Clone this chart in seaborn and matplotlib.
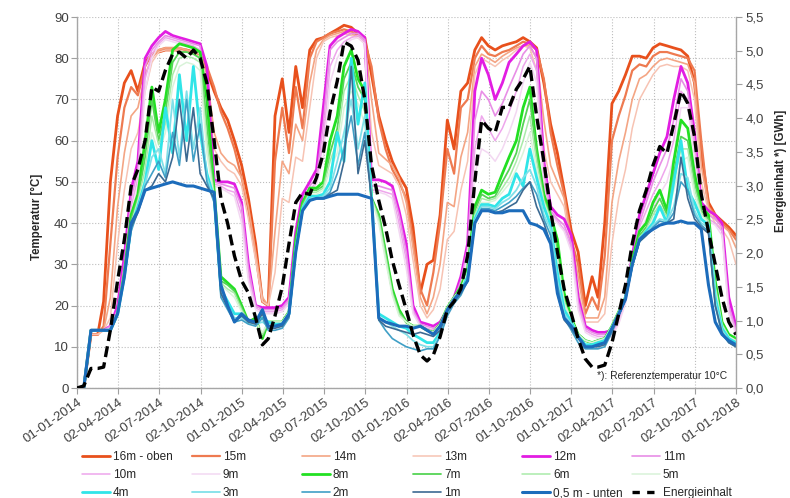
import numpy as np
import pandas as pd
import matplotlib
matplotlib.use("Agg")
import matplotlib.pyplot as plt
import matplotlib.dates as mdates
from matplotlib.lines import Line2D
from matplotlib.ticker import FuncFormatter
import seaborn as sns

sns.set_style("white")
plt.rcParams["font.family"] = ["Liberation Sans", "DejaVu Sans"]

# semi-monthly sampling dates (1st and 16th of each month)
dates = pd.date_range("2014-01-01", "2018-01-01", freq="SMS-16")

x_tick_labels = ["01-01-2014", "02-04-2014", "02-07-2014", "02-10-2014", "01-01-2015",
                 "02-04-2015", "03-07-2015", "02-10-2015", "01-01-2016", "02-04-2016",
                 "02-07-2016", "01-10-2016", "01-01-2017", "02-04-2017", "02-07-2017",
                 "02-10-2017", "01-01-2018"]

t16 = [0, 0, 13, 13, 21, 50, 66, 74, 77, 72, 79, 81, 81.5, 82, 82, 82, 82, 81.5, 81, 77, 72, 68, 65, 60,
       54, 46, 35, 21, 20, 66, 75, 62, 78, 68, 82, 84.5, 85, 86, 87, 88, 87.5, 86, 85, 76, 66, 60, 55, 51.5,
       48.5, 39, 23, 30, 31, 42, 65, 58, 72, 74, 82, 85, 83, 82, 83, 83.5, 84, 85, 84, 82.5, 74, 64, 57, 48,
       38, 33, 20, 27, 22, 40, 69, 72, 76, 80.5, 80.5, 80, 82.5, 83.5, 83, 82.5, 82, 80.5, 74, 57, 45, 42, 40.5, 39, 37]
t15 = [0, 0, 13, 13, 15, 35, 56, 68, 73, 71, 78, 81, 82, 82.5, 82.5, 82.5, 82, 81.5, 80.5, 78, 73, 67, 63, 58,
       51, 43, 32, 21, 20, 55, 68, 57, 73, 63, 80, 84, 85, 86, 86.5, 87, 86.5, 85.5, 84, 78, 65, 58, 53, 50,
       46, 36, 24, 20, 28, 40, 58, 52, 68, 70, 80, 83, 81, 80.5, 81.5, 82, 83, 84, 83.5, 82, 75, 62, 54, 47,
       36, 30, 18, 22, 19, 32, 60, 66, 71, 77, 78.5, 78, 80.5, 81.5, 81.5, 81, 80.5, 80, 77, 60, 44, 42, 40, 38.5, 36]
t14 = [0, 0, 13, 13, 14, 22, 44, 57, 66, 68, 76, 80, 82, 82.5, 82.5, 82.5, 82, 81.5, 81, 76, 62, 57, 55, 54,
       51, 44, 33, 22, 20, 38, 55, 52, 64, 60, 74, 82, 84.5, 85.5, 86, 86.5, 86, 85, 84, 70, 57, 55.5, 54, 51,
       45, 34, 22, 18, 22, 30, 45, 44, 56, 62, 78, 81, 80, 79, 80.5, 81.5, 82.5, 83, 83, 80, 65, 54, 50, 46,
       36, 27, 17, 17, 17, 22, 45, 55, 62, 70, 75, 76, 78, 79.5, 80, 79.5, 79, 78.5, 74, 54, 44, 41, 39.5, 38, 34]
t13 = [0, 0, 13, 13, 14, 17, 35, 48, 58, 62, 72, 79, 81.5, 82, 82, 82, 81.5, 81, 80.5, 73, 58, 55, 53, 52,
       49, 41, 31, 21, 20, 28, 46, 45, 56, 55, 68, 80, 84, 85, 85.5, 86, 85.5, 85, 83.5, 62, 54, 53, 52, 49,
       42, 31, 20, 17, 19, 24, 36, 38, 48, 55, 76, 80, 79, 78, 79.5, 80.5, 82, 83, 82.5, 77, 58, 50, 47, 44,
       34, 24, 16, 16, 16, 18, 35, 46, 53, 63, 70, 73, 76, 78, 78.5, 78, 78, 77, 70, 50, 43, 40, 38.5, 36, 30]
t12 = [0, 0, 14, 14, 14, 15, 20, 32, 48, 55, 80, 83, 85, 86.5, 85.5, 85, 84.5, 84, 83.5, 78, 50.5, 50, 50, 49.5,
       45, 30, 20, 19.5, 19.5, 19.5, 20, 22, 38, 47, 50, 53, 68, 83, 85, 86, 87, 86.5, 85, 50.5, 50.5, 50, 49, 43,
       35, 20, 16, 15.5, 15, 16, 19, 22, 27, 35, 72, 80, 76, 70, 74, 79, 81, 83, 84, 82, 55, 44, 42, 41,
       37, 22, 15, 14, 13.5, 13.5, 14, 17, 22, 32, 42, 47, 52, 57, 61, 70, 78, 74, 62, 45, 43, 42, 40, 22, 15]
t11 = [0, 0, 14, 14, 14, 15, 19, 30, 46, 53, 78, 82, 84, 85.5, 85, 84.5, 84, 83.5, 83, 70, 50, 49.5, 49, 48.5,
       44, 29, 20, 19, 19, 19, 19.5, 21.5, 36, 45, 49, 51, 64, 82, 84, 85, 86, 86, 84.5, 49, 49, 48.5, 48, 42,
       33, 19, 15.5, 15, 14.5, 15.5, 18.5, 21.5, 26, 34, 65, 72, 70, 66, 69, 73, 77, 81, 83, 80, 53, 43, 41, 39.5,
       35, 21, 14.5, 13.5, 13, 13, 13.5, 16.5, 21.5, 31, 40, 45, 50, 54, 58, 65, 75, 72, 60, 44, 42, 41, 39, 20, 14]
t10 = [0, 0, 14, 14, 14, 14.5, 18.5, 29, 44, 51, 75, 81, 83.5, 85, 84.5, 84, 83.5, 83, 82, 64, 49.5, 49, 48, 47.5,
       42, 27, 19.5, 18.5, 18.5, 18.5, 19, 21, 34, 44, 48, 50, 60, 78, 82, 84, 85, 85.5, 84, 48, 48, 47.5, 47, 40,
       31, 18.5, 15, 14.5, 14, 15, 18, 21, 25, 33, 58, 66, 63, 60, 63, 67, 72, 78, 81, 77, 50, 42.5, 40.5, 38.5,
       34, 20, 14, 13, 12.5, 12.5, 13, 16, 21, 30, 39, 43, 47, 50, 54, 60, 72, 70, 58, 43, 41, 40, 38, 19, 13.5]
t9 = [0, 0, 14, 14, 14, 14.5, 18, 28, 42, 49, 72, 80, 83, 84.5, 84, 83.5, 83, 82.5, 81, 58, 49, 48.5, 47.5, 46.5,
      40, 26, 19, 18, 18, 18, 18.5, 20.5, 33, 43, 47.5, 49.5, 56, 74, 80, 83, 84.5, 85, 83.5, 47.5, 47.5, 47, 46, 38,
      29, 18, 15, 14, 13.5, 14.5, 17.5, 20.5, 24.5, 32, 52, 58, 57, 55, 58, 62, 67, 74, 79, 74, 48, 42, 40, 38,
      33, 19, 13.5, 12.5, 12, 12, 12.5, 15.5, 20.5, 29, 38, 41, 44, 47, 50, 56, 68, 68, 56, 42, 40.5, 39.5, 37, 18, 13]
t8 = [0, 0, 14, 14, 14, 14, 18, 28, 42, 47, 60, 73, 62, 70, 82, 83.5, 83, 82.5, 81.5, 70, 48, 27, 25.5, 24,
      20, 16, 17, 12, 16, 16, 16, 18.5, 36, 45, 48.5, 48.5, 50, 60, 66, 78, 82, 75, 72, 46, 42, 33, 24, 19,
      16, 15, 15, 14, 13.5, 15.5, 19.5, 22, 24.5, 29, 44, 48, 47, 47.5, 52, 56, 60, 68, 73, 58, 47, 42, 36, 23,
      17, 13, 11.5, 11, 11.5, 12, 15, 18.5, 22, 31, 38, 40, 45, 48, 43, 55, 65, 63, 52, 44, 42, 26, 16, 13, 12]
t7 = [0, 0, 14, 14, 14, 14, 18, 27.5, 41, 46, 56, 70, 60, 67, 79, 81.5, 81.5, 81, 80, 64, 47, 26, 25, 23.5,
      19.5, 16, 16.5, 12.5, 16, 16, 16, 18.5, 35, 44.5, 48, 48, 49, 57, 63, 75, 79, 73, 70, 46, 42, 33, 23.5, 18.5,
      16, 15, 15, 14, 13.5, 15.5, 19.5, 22, 24, 28, 43, 47, 46, 46.5, 50, 53, 57, 64, 70, 57, 46, 41.5, 33, 21,
      16.5, 13, 11.5, 11, 11.5, 12, 15, 18.5, 22, 30.5, 37, 39, 43, 46, 42, 52, 61, 60, 50, 43, 41, 25, 15.5, 12.5, 11.5]
t6 = [0, 0, 14, 14, 14, 14, 18, 27, 40, 45.5, 53, 66, 59, 64, 76, 80, 80.5, 80, 79, 60, 46.5, 25.5, 24, 23,
      19, 16, 16, 13, 16, 16, 16, 18.5, 34, 44, 47.5, 47.5, 48.5, 55, 60, 72, 76, 71, 67, 46, 41, 32, 23, 18,
      16, 15, 15, 14, 13.5, 15.5, 19.5, 22, 24, 28, 42, 46, 45.5, 46, 48.5, 51, 55, 60, 66, 55, 45.5, 41, 32, 21,
      16.5, 13, 11.5, 11, 11.5, 12, 15, 18.5, 22, 30, 36.5, 38.5, 42, 44.5, 41.5, 50, 58, 58, 48.5, 42.5, 40.5, 24.5, 15.5, 12.5, 11.5]
t5 = [0, 0, 14, 14, 14, 14, 18, 27, 39.5, 45, 51, 62, 57, 62, 73, 78, 79, 78.5, 77, 57, 46, 25, 23.5, 22,
      18.5, 16, 16, 13.5, 16, 16, 16, 18.5, 34, 43.5, 47, 47, 48, 53, 57, 68, 72, 69, 64, 46, 40, 31, 22.5, 17.5,
      16, 15, 15, 14, 13.5, 15.5, 19.5, 22, 24, 28, 41.5, 45, 45, 45.5, 47.5, 49.5, 53, 57, 62, 53, 45, 40.5, 31, 20.5,
      16.5, 13, 11.5, 11, 11.5, 12, 15, 18.5, 22, 30, 36, 38, 41, 43.5, 41, 48, 55, 56, 47, 42, 40, 24, 15, 12.5, 11.5]
t4 = [0, 0, 14, 14, 14, 14, 18, 27, 39, 44, 50, 60, 53, 68, 57, 76, 60, 78, 62, 52, 46, 24, 21, 18,
      18, 16, 16, 17, 16, 15.5, 15.5, 18, 33.5, 43.5, 46.5, 46.5, 47, 50, 62, 55, 80, 64, 74, 46, 18, 17, 16, 15,
      14.5, 13, 12, 11, 11, 13.5, 18.5, 21.5, 23.5, 27, 41, 44.5, 44.5, 44, 46, 47, 52, 49, 58, 51, 44, 39.5, 28, 19,
      16, 12.5, 10.5, 10.5, 11, 11.5, 14.5, 18, 22, 30, 36, 38, 40, 44, 40, 50, 60, 48, 45, 41, 39.5, 22, 14.5, 12, 11]
t3 = [0, 0, 14, 14, 14, 14, 18, 27, 38.5, 43.5, 49.5, 56, 58, 52, 70, 56, 72, 58, 68, 51, 45.5, 23, 20, 17,
      17, 16, 15.5, 16, 15, 15, 15, 17.5, 33, 43, 46, 46, 46.5, 48.5, 55, 62, 70, 58, 66, 45.5, 17, 16, 15, 14,
      13, 11.5, 10.5, 10, 10, 13, 18, 21, 23, 26.5, 40.5, 44, 44, 43.5, 45, 46, 48, 51, 53, 49, 42, 38.5, 26, 18,
      15.5, 12, 10, 10, 10.5, 11, 14, 18, 22, 30, 36, 37.5, 39.5, 41, 40.5, 44, 52, 51, 43, 40, 39, 21, 14, 11.5, 10.5]
t2 = [0, 0, 14, 14, 14, 14, 18, 27, 38, 43, 49, 52, 55, 51, 62, 54, 70, 55, 64, 50, 45, 22, 19, 16,
      16.5, 15.5, 15, 17, 14, 14, 14.5, 17, 33, 43, 45.5, 46, 46, 47.5, 52, 58, 66, 54, 62, 45.5, 16.5, 14, 12, 11,
      10, 9.5, 9, 9.5, 9.5, 12.5, 17.5, 20.5, 22.5, 26, 40, 43.5, 43.5, 43, 44, 45, 46.5, 48.5, 50, 47, 41, 37, 25, 17,
      14, 11, 9.5, 9.5, 9.5, 10, 13.5, 17.5, 21.5, 29.5, 35.5, 37, 39, 40.5, 40, 42.5, 50, 48, 42, 39.5, 38, 20, 13, 11, 10]
t1 = [0, 0, 14, 14, 14, 14, 18, 27, 39, 42.5, 48, 49, 52, 50, 56, 70, 55, 68, 52, 49, 46, 23, 19.5, 16,
      17.5, 16, 15.5, 18, 14.5, 14.5, 15, 17.5, 33, 43, 45.5, 46, 46, 47, 48, 55, 78, 52, 60, 46, 16.5, 15, 14.5, 14,
      13.5, 13, 13.5, 13, 12.5, 14, 18.5, 21, 23, 26, 40, 43, 43, 42.5, 43, 44, 45, 48, 50, 44, 40, 35, 23, 16.5,
      14.5, 12, 10, 10, 10, 10.5, 14, 17.5, 21.5, 29.5, 35.5, 37, 38.5, 39.5, 40, 41, 56, 46, 41, 39, 37.5, 20, 13.5, 11, 10]
t05 = [0, 0, 14, 14, 14, 14, 18, 27, 40, 43, 48, 48.5, 49, 49.5, 50, 49.5, 49, 49, 48.5, 48, 47.5, 25, 20, 16,
       18, 16.5, 16, 19, 15, 15, 15.5, 18, 33, 43, 45.5, 46, 46, 46.5, 47, 47, 47, 47, 46.5, 46, 17, 16, 15.5, 15,
       15, 14.5, 15, 14, 13, 15, 19, 21.5, 23.5, 26, 40, 43, 43, 42.5, 42.5, 43, 43, 43, 40, 39.5, 38.5, 35, 23, 17,
       15, 12.5, 10, 10, 10.5, 11, 14.5, 18, 21.5, 30, 36, 37.5, 38.5, 39.5, 40, 40, 40.5, 40, 40, 38.5, 25, 16, 13, 11.5, 10.5]
energie = [0, 0.03, 0.29, 0.29, 0.31, 0.86, 1.59, 2.2, 2.99, 3.24, 3.67, 4.46, 4.4, 4.71, 4.95, 4.98, 4.89, 5.01, 4.89, 4.52, 3.67, 2.81, 2.44, 1.96,
           1.59, 1.41, 1.04, 0.64, 0.73, 1.07, 1.5, 2.14, 2.75, 2.9, 2.87, 3.12, 3.48, 4.09, 4.55, 5.13, 5.07, 4.86, 4.28, 3.3, 2.78, 2.38, 1.89, 1.53,
           1.16, 0.79, 0.49, 0.4, 0.49, 0.76, 1.16, 1.28, 1.47, 1.96, 3.06, 3.97, 3.85, 3.79, 4.16, 4.16, 4.43, 4.58, 4.77, 4.03, 3.36, 2.63, 2.02, 1.47,
           1.1, 0.73, 0.43, 0.31, 0.31, 0.34, 0.67, 1.1, 1.53, 2.14, 2.63, 2.93, 3.3, 3.58, 3.48, 3.91, 4.4, 4.22, 3.73, 2.87, 2.32, 1.83, 1.34, 0.98, 0.79]

labels = ["16m - oben", "15m", "14m", "13m", "12m", "11m", "10m", "9m", "8m", "7m",
          "6m", "5m", "4m", "3m", "2m", "1m", "0,5 m - unten"]
series = [t16, t15, t14, t13, t12, t11, t10, t9, t8, t7, t6, t5, t4, t3, t2, t1, t05]
colors = ["#E8501C", "#EE7A50", "#F4A584", "#F7C3B3", "#E21DE2", "#E88EE6", "#EEA6EC", "#F3D8F2",
          "#22E022", "#55D455", "#A9EBA9", "#D9F3D9", "#30E5E8", "#80E0E8", "#3F9FC6", "#3C6A92", "#1C6CBB"]
widths = [2.0, 1.6, 1.2, 1.1, 2.0, 1.2, 1.1, 1.1, 2.0, 1.3, 1.1, 1.1, 2.0, 1.3, 1.2, 1.2, 2.2]

df = pd.DataFrame({"date": dates, **{lab: vals for lab, vals in zip(labels, series)},
                   "Energieinhalt": energie})

W, H = 790, 498
fig = plt.figure(figsize=(W / 100, H / 100), dpi=100)
ax = fig.add_axes([77 / W, 1 - 388 / H, (736 - 77) / W, (388 - 17) / H])

for lab, c, lw in zip(labels, colors, widths):
    sns.lineplot(data=df, x="date", y=lab, ax=ax, color=c, linewidth=lw, legend=False)

ax2 = ax.twinx()
sns.lineplot(data=df, x="date", y="Energieinhalt", ax=ax2, color="black", linewidth=2.4, legend=False)
ax2.lines[-1].set_dashes([3.3, 1.6])

tick_col = "#404040"
ax.set_xlim(dates[0], dates[-1])
ax.set_ylim(0, 90)
ax.set_yticks(range(0, 91, 10))
start = mdates.date2num(pd.Timestamp("2014-01-01"))
ax.set_xticks(start + np.arange(17) * 1461 / 16)
ax.set_xticklabels(x_tick_labels, rotation=35, ha="right", va="top", rotation_mode="anchor")
ax.set_xlabel("")
ax.set_ylabel("")
ax.grid(True, color="#BDBDBD", linestyle=":", linewidth=0.8)
ax.set_axisbelow(True)
ax.tick_params(axis="both", labelsize=9.5, labelcolor=tick_col, length=4, color="#A0A0A0",
               direction="out", left=True, bottom=True, pad=2)

ax2.set_ylim(0, 5.5)
ax2.set_yticks(np.arange(0, 5.51, 0.5))
ax2.yaxis.set_major_formatter(FuncFormatter(lambda v, p: f"{v:.1f}".replace(".", ",")))
ax2.set_ylabel("")
ax2.tick_params(axis="y", labelsize=9.5, labelcolor=tick_col, length=4, color="#A0A0A0",
                direction="out", right=True, pad=3)
ax2.grid(False)

for a in (ax, ax2):
    for s in a.spines.values():
        s.set_visible(False)
ax.spines["left"].set_visible(True)
ax.spines["bottom"].set_visible(True)
ax2.spines["right"].set_visible(True)
for s in (ax.spines["left"], ax.spines["bottom"], ax2.spines["right"]):
    s.set_color("#A6A6A6")
    s.set_linewidth(1.0)

fig.text(37 / W, 1 - 217 / H, "Temperatur [°C]", rotation=90, ha="center", va="center",
         fontsize=8.3, fontweight="bold", color="#262626")
fig.text(781 / W, 1 - 171 / H, "Energieinhalt *) [GWh]", rotation=90, ha="center", va="center",
         fontsize=8.3, fontweight="bold", color="#262626")
fig.text(727 / W, 1 - 376 / H, "*): Referenztemperatur 10°C", ha="right", va="center",
         fontsize=7.4, color="#262626")

handles = [Line2D([], [], color=c, linewidth=lw) for c, lw in zip(colors, widths)]
eh = Line2D([], [], color="black", linewidth=2.4)
eh.set_dashes([2.2, 2.2])
handles.append(eh)
all_labels = labels + ["Energieinhalt"]
col_x = [82, 192, 302, 413, 522, 632]
for k, xk in enumerate(col_x):
    idx = [k, k + 6, k + 12]
    fig.legend([handles[i] for i in idx], [all_labels[i] for i in idx],
               loc="upper left", bbox_to_anchor=(xk / W, 1 - 451 / H), frameon=False,
               fontsize=8.5, handlelength=2.37, handletextpad=0.25, labelspacing=0.52,
               borderpad=0, borderaxespad=0, labelcolor="#262626")

fig.savefig("out.png", dpi=100, facecolor="white")
